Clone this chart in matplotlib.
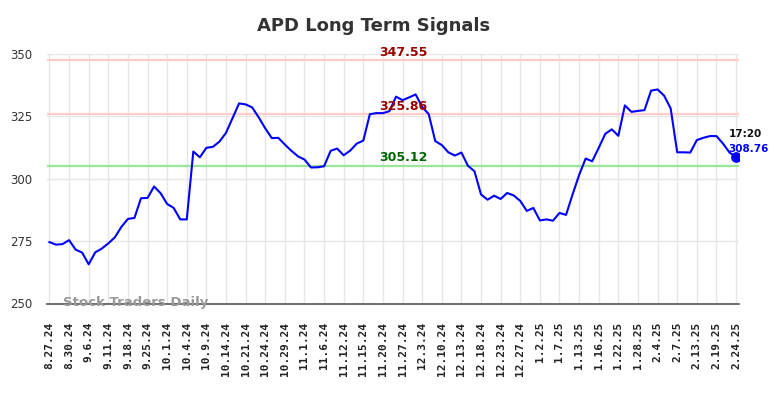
import matplotlib
matplotlib.use("Agg")
import matplotlib.pyplot as plt
import numpy as np

title = "APD Long Term Signals"

tick_labels = ["8.27.24", "8.30.24", "9.6.24", "9.11.24", "9.18.24", "9.25.24",
               "10.1.24", "10.4.24", "10.9.24", "10.14.24", "10.21.24", "10.24.24",
               "10.29.24", "11.1.24", "11.6.24", "11.12.24", "11.15.24", "11.20.24",
               "11.27.24", "12.3.24", "12.10.24", "12.13.24", "12.18.24", "12.23.24",
               "12.27.24", "1.2.25", "1.7.25", "1.13.25", "1.16.25", "1.22.25",
               "1.28.25", "2.4.25", "2.7.25", "2.13.25", "2.19.25", "2.24.25"]

prices = [274.6, 273.6, 273.8, 275.4, 271.6, 270.4, 265.7, 270.5, 272.0, 274.1,
          276.5, 280.7, 283.9, 284.3, 292.2, 292.3, 296.9, 294.2, 289.9, 288.3,
          283.7, 283.7, 310.9, 308.6, 312.4, 312.8, 314.9, 318.4, 324.3, 330.2,
          329.8, 328.6, 324.6, 320.2, 316.3, 316.4, 313.7, 311.2, 309.0, 307.7,
          304.5, 304.6, 305.0, 311.2, 312.1, 309.4, 311.3, 314.1, 315.3, 325.9,
          326.3, 326.3, 327.1, 332.9, 331.5, 332.6, 333.8, 328.8, 325.9, 315.1,
          313.5, 310.6, 309.3, 310.5, 305.2, 303.0, 293.7, 291.6, 293.2, 291.9,
          294.3, 293.3, 291.1, 287.1, 288.3, 283.3, 283.7, 283.2, 286.3, 285.5,
          293.7, 301.5, 308.1, 307.0, 312.4, 318.0, 319.8, 317.2, 329.4, 326.8,
          327.2, 327.5, 335.3, 335.8, 333.3, 328.2, 310.6, 310.6, 310.5, 315.5,
          316.4, 317.1, 317.1, 314.1, 310.5, 308.76]

resistance_levels = [347.55, 325.86]
support_levels = [305.12]
last_time = "17:20"
last_price = 308.76
y_ticks = [250, 275, 300, 325, 350]
watermark = "Stock Traders Daily"

fig = plt.figure(figsize=(7.84, 3.98), dpi=100)
ax = fig.add_axes([46.5 / 784, 1 - 303.5 / 398, (739 - 46.5) / 784, (303.5 - 54) / 398])

x = np.arange(len(prices))
tick_step = 3
tick_pos = x[::tick_step]

ax.set_xlim(-0.45, len(prices) - 1 + 0.45)
ax.set_ylim(250, 350)

ax.grid(True, color="#e6e6e6", linewidth=1.0, zorder=0)
ax.set_axisbelow(True)

label_x = 54.1
for lv in resistance_levels:
    ax.axhline(lv, color="#ffcccc", linewidth=1.6, zorder=1)
    ax.text(label_x, lv + 0.6, f"{lv:.2f}", color="#990000", fontsize=9,
            fontweight="bold", ha="center", va="bottom", zorder=4)
for lv in support_levels:
    ax.axhline(lv, color="#99e699", linewidth=1.6, zorder=1)
    ax.text(label_x, lv + 0.6, f"{lv:.2f}", color="#006600", fontsize=9,
            fontweight="bold", ha="center", va="bottom", zorder=4)

ax.plot(x, prices, color="#0000ff", linewidth=1.5, zorder=3)
ax.scatter([x[-1]], [prices[-1]], color="#0000ff", s=45, zorder=5)

ax.text(x[-1] - 1.1, prices[-1] + 9.0, last_time, color="#111111", fontsize=7.5,
        fontweight="bold", ha="left", va="center")
ax.text(x[-1] - 1.2, prices[-1] + 3.3, f"{last_price:.2f}", color="#0000ff",
        fontsize=7.5, fontweight="bold", ha="left", va="center")

ax.text(2.0, 250.5, watermark, color="#999999", fontsize=9.5, fontweight="bold",
        ha="left", va="center", zorder=6)

ax.set_xticks(tick_pos)
ax.set_xticklabels(tick_labels, rotation=90, family="DejaVu Sans Mono",
                   fontweight="bold", fontsize=8, color="#222222")
ax.set_yticks(y_ticks)
ax.set_yticklabels([str(v) for v in y_ticks], fontsize=8.5, color="#333333")
ax.tick_params(axis="x", length=0, pad=13)
ax.tick_params(axis="y", length=0, pad=10)

for s in ["top", "right", "left"]:
    ax.spines[s].set_visible(False)
ax.spines["bottom"].set_color("#555555")
ax.spines["bottom"].set_linewidth(1.2)

fig.text(374 / 784, 1 - 26 / 398, title, fontsize=13, fontweight="bold",
         color="#333333", ha="center", va="center")

fig.savefig("out.png", dpi=100)
